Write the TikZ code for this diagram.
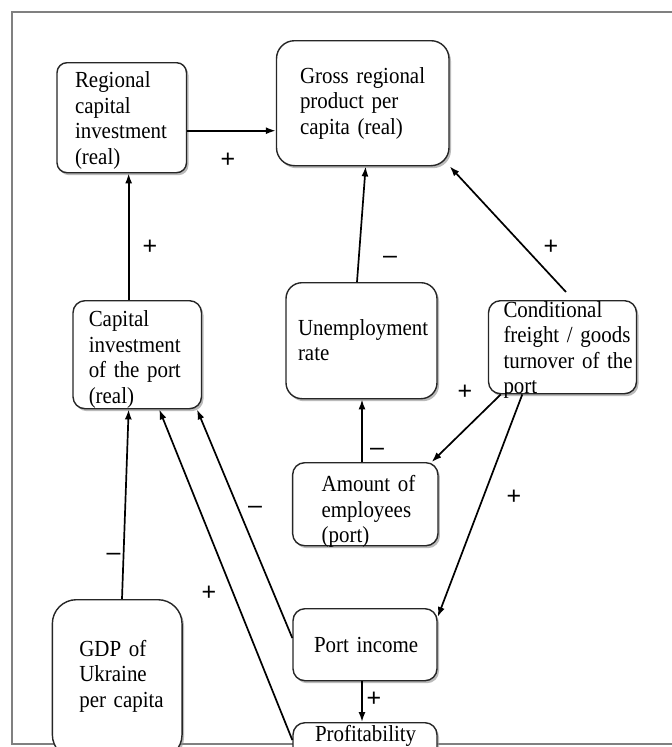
\documentclass[tikz,border=0pt]{standalone}
\usepackage{fontspec}
\setmainfont[FakeStretch=0.91]{Liberation Serif}
\newfontfamily\signfont{Liberation Sans}
\usetikzlibrary{shadows,arrows.meta}
\tikzset{>={Latex[length=10pt,width=7pt]}}
\hyphenpenalty=10000

\begin{document}
\begin{tikzpicture}[x=1pt,y=-1pt,
    box/.style={draw=black!85, line width=1.4pt, fill=white, rounded corners=12pt,
        anchor=north, inner sep=0pt, align=left, font=\fontsize{23}{25.5}\selectfont,
        drop shadow={shadow xshift=2pt,shadow yshift=-2.5pt,fill=black!45,opacity=.6}},
    link/.style={->, line width=1.7pt},
    sign/.style={font=\signfont\fontsize{25}{25}\selectfont, inner sep=0pt}]
    \useasboundingbox (0,0) rectangle (672,747);
    \clip (0,0) rectangle (672,747);
    \draw[black!50, line width=2pt] (12,11.5) rectangle (700,744);

    \node[box, minimum width=129.5pt, text width=93.5pt, text height=25pt, text depth=85pt, rounded corners=10pt]
        (reg) at (121.75,62) {Regional\\capital\\investment\\(real)};
    \node[box, minimum width=172.5pt, text width=125.5pt, text height=42.7pt, text depth=82.3pt, rounded corners=18pt]
        (gross) at (362.75,40) {Gross~regional\\product~per\\capita~(real)};
    \node[box, minimum width=128.5pt, text width=97pt, text height=26pt, text depth=82pt]
        (cap) at (137.25,300) {Capital\\investment\\of~the~port\\(real)};
    \node[box, minimum width=151pt, text width=127pt, text height=52.3pt, text depth=63.7pt, rounded corners=16pt]
        (unemp) at (361.5,282) {Unemployment\\rate};
    \node[box, minimum width=148pt, text width=118pt, text height=16.7pt, text depth=76.3pt]
        (cond) at (562.5,300) {Conditional\\freight~/~goods\\turnover~of~the\\port};
    \node[box, minimum width=145.3pt, text width=87.3pt, text height=29pt, text depth=54pt]
        (amount) at (365.3,462) {Amount~of\\employees\\(port)};
    \node[box, minimum width=129.7pt, text width=75.7pt, text height=56.7pt, text depth=102.3pt, rounded corners=24pt]
        (gdp) at (117.2,599) {GDP~of\\Ukraine\\per~capita};
    \node[box, minimum width=144pt, text width=102pt, text height=43.7pt, text depth=28.3pt]
        (income) at (365,608) {Port~income};
    \node[box, minimum width=144pt, text width=100pt, text height=18.7pt, text depth=60pt]
        (profit) at (365,722) {Profitability};

    \draw[link] ([yshift=-13pt]reg.east) -- ([yshift=-13pt]reg.east -| gross.west);
    \draw[link] ([xshift=-8.6pt]cap.north) -- ([xshift=-8.6pt]cap.north |- reg.south);
    \draw[link] ([xshift=-4.5pt]unemp.north) -- ([xshift=2.9pt]gross.south);
    \draw[link] ([xshift=3.5pt,yshift=8pt]cond.north) -- (gross.south east);
    \draw[link] ([xshift=-3.3pt]amount.north) -- ([xshift=-3.3pt]amount.north |- unemp.south);
    \draw[link] ([xshift=13pt]cond.south west) -- ([xshift=-7pt]amount.north east);
    \draw[link] ([xshift=34.5pt]cond.south west) -- ([yshift=-9pt]income.north east);
    \draw[link] ([yshift=-30pt]income.north west) -- ([xshift=-5.2pt]cap.south east);
    \draw[link] ([yshift=-18pt]profit.north west) -- ([xshift=22pt]cap.south);
    \draw[link] ([xshift=4.8pt]gdp.north) -- ([xshift=-8.6pt]cap.south);
    \draw[link] ([xshift=-3pt]income.south) -- ([xshift=-3pt]income.south |- profit.north);

    \foreach \n/\x/\y/\s in {s1/228/160/+, s2/150/247/+, s3/390/260/\textendash,
        s4/551/247/+, s5/377/452/\textendash, s6/465/392/+, s7/514/497/+,
        s8/255/510/\textendash, s9/113.6/557/\textendash, s10/209/593/+, s11/374/699/+}
        \node[sign] (\n) at (\x,\y) {\s};
\end{tikzpicture}
\end{document}
